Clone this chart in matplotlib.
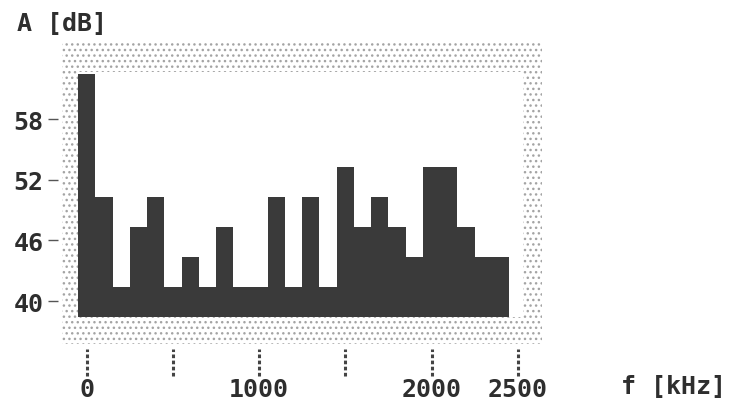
import matplotlib
matplotlib.use("Agg")
import matplotlib.pyplot as plt
from matplotlib.patches import Rectangle
from matplotlib.transforms import blended_transform_factory

plt.rcParams['font.family'] = 'DejaVu Sans Mono'
plt.rcParams['font.weight'] = 'bold'
plt.rcParams['hatch.linewidth'] = 1.0

# spectrum, one bin per 100 kHz
freq = [0, 100, 200, 300, 400, 500, 600, 700, 800, 900, 1000, 1100, 1200,
        1300, 1400, 1500, 1600, 1700, 1800, 1900, 2000, 2100, 2200, 2300, 2400]
level = [62.5, 50.3, 41.4, 47.3, 50.3, 41.4, 44.4, 41.4, 47.3, 41.4, 41.4,
         50.3, 41.4, 50.3, 41.4, 53.3, 47.3, 50.3, 47.3, 44.4, 53.3, 53.3,
         47.3, 44.4, 44.4]
bin_width = 100
base = 38.42

xticks = [0, 500, 1000, 1500, 2000, 2500]
xticklabels = ['0', '', '1000', '', '2000', '2500']
yticks = [40, 46, 52, 58]

ink = '#2e2e2e'

fig = plt.figure(figsize=(7.34, 4.06), dpi=100)
ax = fig.add_axes([0.0845, 0.1502, 0.654, 0.7438])
ax.set_xlim(-143, 2641)
ax.set_ylim(35.75, 65.62)
for s in ax.spines.values():
    s.set_visible(False)

# stippled border and white plotting field
ax.add_patch(Rectangle((0, 0), 1, 1, transform=ax.transAxes, facecolor='white',
                       edgecolor='#a4a4a4', hatch='...', lw=0, zorder=0))
ax.add_patch(Rectangle((-50, base), 2580, 62.65 - base, facecolor='white',
                       edgecolor='none', lw=0, zorder=1))

ax.bar(freq, [v - base for v in level], width=bin_width, bottom=base,
       color='#3a3a3a', edgecolor='none', linewidth=0, zorder=2)

# ticks sit a little away from the border
tx = blended_transform_factory(ax.transData, ax.transAxes)
ax.vlines(xticks, -0.106, -0.017, transform=tx, colors='#444444',
          linestyles=(0, (1.2, 0.8)), linewidth=2.2, clip_on=False)
ty = blended_transform_factory(ax.transAxes, ax.transData)
ax.hlines(yticks, -0.029, -0.009, transform=ty, colors='#555555',
          linewidth=1.0, clip_on=False)

ax.set_xticks(xticks)
ax.set_xticklabels(xticklabels)
ax.set_yticks(yticks)
ax.tick_params(axis='x', length=0, pad=24, labelsize=18, labelcolor=ink)
ax.tick_params(axis='y', length=0, pad=13.5, labelsize=18, labelcolor=ink)

fig.text(17 / 734, 1 - 24 / 406, 'A [dB]', fontsize=18, color=ink,
         ha='left', va='center')
fig.text(621 / 734, 19 / 406, 'f [kHz]', fontsize=18, color=ink,
         ha='left', va='center')

fig.savefig('out.png', dpi=100)
